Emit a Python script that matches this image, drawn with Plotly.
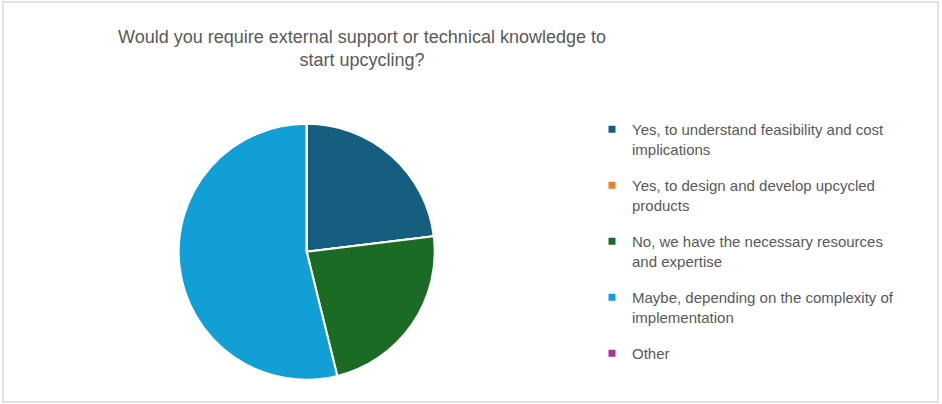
import plotly.graph_objects as go

# Survey answers and respondent counts
categories = [
    "Yes, to understand feasibility and cost<br>implications",
    "Yes, to design and develop upcycled<br>products",
    "No, we have the necessary resources<br>and expertise",
    "Maybe, depending on the complexity of<br>implementation",
    "Other",
]
counts = [3, 0, 3, 7, 0]
colors = ["#165E80", "#ED7D31", "#1B6B24", "#119FD6", "#A33594"]

title_text = "Would you require external support or technical knowledge to<br>start upcycling?"

W, H = 942, 404
FONT = "Liberation Sans, Arial, sans-serif"

fig = go.Figure()

# Pie centred at (306.7, 251.7) px with a 128 px radius
cx, cy, r = 306.7, 251.7, 128
fig.add_trace(go.Pie(
    labels=categories,
    values=counts,
    marker=dict(colors=colors, line=dict(color="white", width=2)),
    sort=False,
    direction="clockwise",
    rotation=0,
    textinfo="none",
    hoverinfo="label+value+percent",
    showlegend=False,
    domain=dict(x=[(cx - r) / W, (cx + r) / W], y=[(H - cy - r) / H, (H - cy + r) / H]),
))

# Legend entries, one per answer, using the same labels and colours
for i, (lab, col) in enumerate(zip(categories, colors)):
    fig.add_trace(go.Scatter(
        x=[None], y=[None], mode="markers", name=lab,
        marker=dict(symbol="square", size=7, color=col),
        legendgroup=f"g{i}", showlegend=True, hoverinfo="skip",
    ))

fig.update_layout(
    width=W, height=H,
    margin=dict(l=0, r=0, t=0, b=0),
    paper_bgcolor="white", plot_bgcolor="white",
    font=dict(family=FONT, color="#595959"),
    title=dict(
        text=title_text,
        x=362 / W, xanchor="center", xref="paper",
        y=1 - 43 / H, yanchor="top", yref="container",
        font=dict(family=FONT, size=18, color="#595959"),
    ),
    xaxis=dict(visible=False, domain=[0.98, 1]),
    yaxis=dict(visible=False, domain=[0.98, 1]),
    legend=dict(
        x=592 / W, xanchor="left",
        y=1 - 113 / H, yanchor="top",
        font=dict(family=FONT, size=15, color="#595959"),
        tracegroupgap=14,
        valign="top",
        bgcolor="rgba(0,0,0,0)",
    ),
    shapes=[dict(
        type="rect", xref="paper", yref="paper",
        x0=3 / W, x1=938 / W, y0=1 - 402 / H, y1=1 - 2 / H,
        line=dict(color="#D9D9D9", width=1.5), fillcolor="rgba(0,0,0,0)",
    )],
)

fig.write_html("out.html")
